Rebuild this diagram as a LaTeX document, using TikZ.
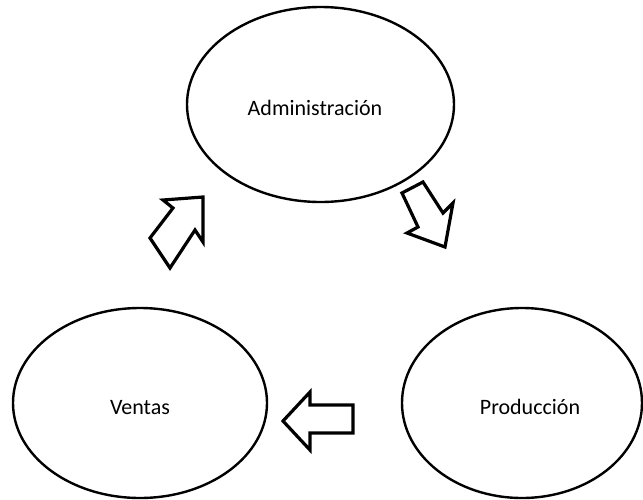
\documentclass[tikz,border=0pt]{standalone}
\usepackage{fontspec}
\setmainfont{Carlito}
\usetikzlibrary{shapes.geometric}
\begin{document}
\begin{tikzpicture}[x=1pt,y=-1pt,
  area/.style={draw=black,line width=2.4pt,ellipse,inner sep=0pt},
  label/.style={font=\fontsize{22}{26}\selectfont,inner sep=0pt},
  flow/.style={draw=black,line width=3.2pt,line join=miter,fill=white}]
  \useasboundingbox (0,0) rectangle (643,499);

  % the three departments
  \node[area,minimum width=267pt,minimum height=195pt] (adm) at (320.5,104.5) {};
  \node[area,minimum width=254pt,minimum height=190pt] (ven) at (140,403) {};
  \node[area,minimum width=240pt,minimum height=190pt] (pro) at (522,403) {};

  \node[label] (tadm) at (315,108) {Administración};
  \node[label] (tven) at (140,408) {Ventas};
  \node[label] (tpro) at (530,407) {Producción};

  % block arrows of the cycle
  \draw[flow] (402,193) -- (423,182) -- (443,213) -- (453,203) -- (445,247)
    -- (407,233) -- (418,227) -- cycle;
  \draw[flow] (283,421) -- (310,392) -- (310,405) -- (353,405) -- (353,433)
    -- (310,433) -- (310,450) -- cycle;
  \draw[flow] (163,200) -- (203,197) -- (203,242) -- (195,230) -- (170,268)
    -- (150,238) -- (173,208) -- cycle;
\end{tikzpicture}
\end{document}
